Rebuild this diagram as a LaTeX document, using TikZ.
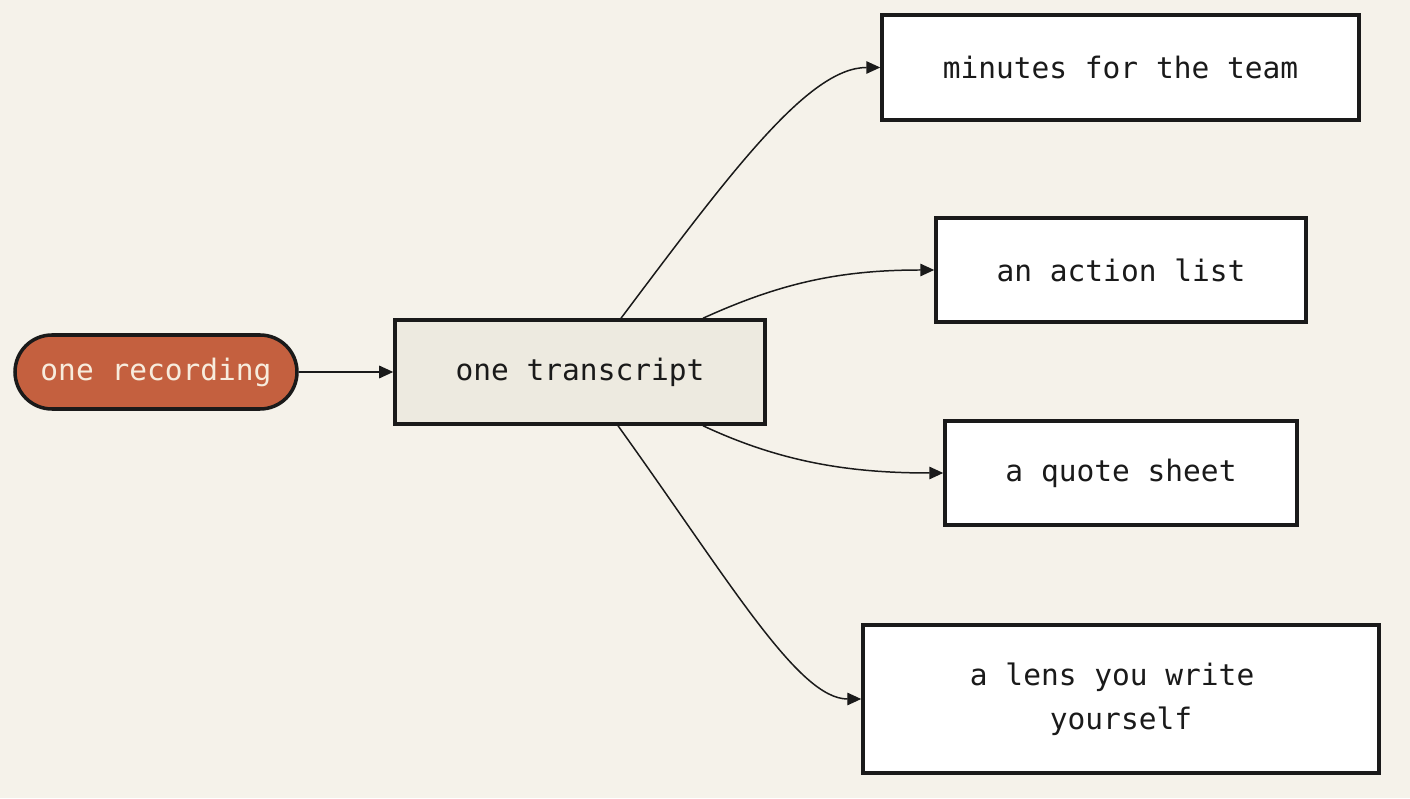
\documentclass[tikz,border=0pt]{standalone}
\usepackage{fontspec}
\setmonofont{DejaVu Sans Mono}
\usetikzlibrary{calc,arrows.meta,shapes.misc}
\definecolor{paper}{HTML}{F5F2EA}
\definecolor{clay}{HTML}{C4603F}
\definecolor{cream}{HTML}{F7ECDD}
\definecolor{stone}{HTML}{EDEAE0}
\definecolor{ink}{HTML}{1A1A1A}
\tikzset{
  box/.style={draw=ink, line width=2pt, fill=white, inner sep=0pt, align=center,
    font=\ttfamily\fontsize{16.8pt}{25pt}\selectfont, text=ink},
  pill/.style={box, rounded rectangle, fill=clay, text=cream},
  link/.style={draw=ink, line width=0.85pt, -{Triangle[length=2.8mm,width=2.5mm]}}
}

\begin{document}
\begin{tikzpicture}
				\fill[paper] (0,0) rectangle (28.2,15.96);
				
				\node[pill, minimum width=5.64cm, minimum height=1.48cm] (rec) at (3.12,8.52) {one recording};
				\node[box, fill=stone, minimum width=7.4cm, minimum height=2.08cm] (tr) at (11.6,8.52) {one transcript};
				
				\node[box, minimum width=9.54cm, minimum height=2.1cm] (mn) at (22.41,14.61) {minutes for the team};
				\node[box, minimum width=7.4cm, minimum height=2.08cm] (act) at (22.42,10.56) {an action list};
				\node[box, minimum width=7.04cm, minimum height=2.08cm] (qt) at (22.42,6.5) {a quote sheet};
				\node[box, minimum width=10.32cm, minimum height=2.96cm] (lens) at (22.42,1.98) {a lens you write\hphantom{x}\\yourself};
				
				\draw[link] (rec.east) -- (tr.west);
				\draw[link] ($(tr.north)+(0.82,0)$) .. controls +(2.18,2.9) and +(-1.44,0) .. (mn.west);
				\draw[link] ($(tr.north)+(2.46,0)$) .. controls +(1.54,0.7) and +(-1.9,0) .. (act.west);
				\draw[link] ($(tr.south)+(2.46,0)$) .. controls +(1.54,-0.72) and +(-1.9,0) .. (qt.west);
				\draw[link] ($(tr.south)+(0.76,0)$) .. controls +(2.24,-3.12) and +(-1.26,0) .. (lens.west);
			\end{tikzpicture}
\end{document}
